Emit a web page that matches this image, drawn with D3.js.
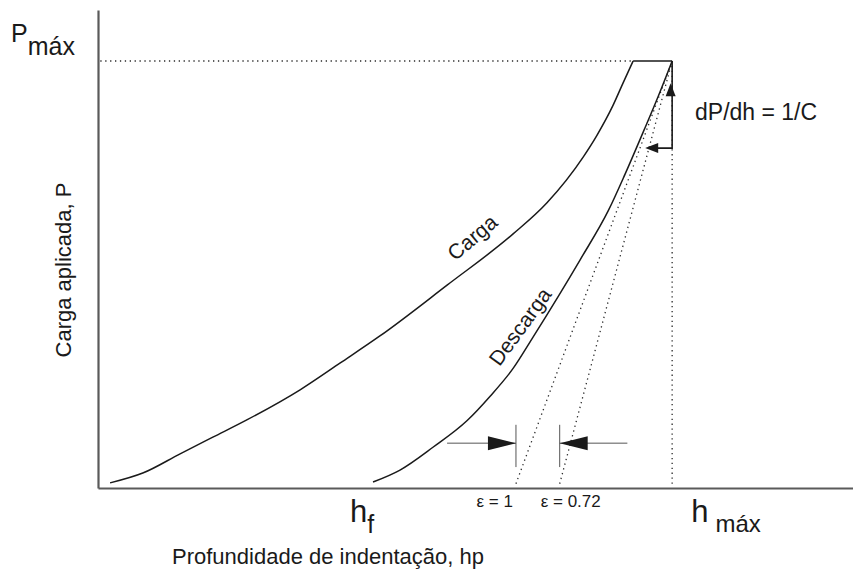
<!DOCTYPE html>
<html>
<head>
<meta charset="utf-8">
<script src="https://cdn.jsdelivr.net/npm/d3@7"></script>
<style>
  html, body { margin: 0; padding: 0; background: #fff; }
  svg { display: block; }
  text { font-family: "Liberation Sans", Arial, Helvetica, sans-serif; fill: #1a1a1a; }
</style>
</head>
<body>
<svg id="chart" width="853" height="571"></svg>
<script>
// Indentation depth h and load P (P max = 100, h max = 100)
const loadH = [2.1, 7.8, 14.3, 20.0, 26.0, 35.2, 42.2, 49.1, 60.8, 72.3, 78.2, 84.5, 86.9, 89.7, 91.5, 93.2];
const loadP = [1.2, 3.5, 8.0, 11.9, 16.0, 23.0, 29.3, 35.6, 47.5, 59.5, 66.8, 77.5, 82.6, 89.6, 95.0, 100];

const unloadH = [47.9, 52.6, 58.4, 64.3, 68.3, 72.3, 75.8, 84.0, 88.9, 91.8, 95.1, 97.6, 100];
const unloadP = [1.4, 4.2, 9.6, 15.8, 21.5, 28.0, 35.4, 53.5, 65.0, 73.5, 83.8, 91.8, 100];

const hMax = 100;
const pMax = 100;
const hF = unloadH[0];
const stiffness = 3.676;          // dP/dh at the top of the unloading curve
const epsilons = [1, 0.72];
const epsLabels = ["ε = 1", "ε = 0.72"];
const triangleDP = 20.4;          // size of the slope triangle
const triangleDH = 4.7;

const svg = d3.select("#chart");
const x = d3.scaleLinear().domain([0, 131.5]).range([98, 853]);
const y = d3.scaleLinear().domain([0, 111.94]).range([488, 10]);

const ink = "#1a1a1a";
const dotted = { stroke: "#2a2a2a", width: 1.3, dash: "1.3,3.6" };

// axes (no ticks)
svg.append("g").attr("transform", `translate(0,${y(0)})`)
  .call(d3.axisBottom(x).tickValues([]).tickSizeOuter(0))
  .select(".domain").attr("stroke", "#5a5a5a").attr("stroke-width", 2.2);
svg.append("g").attr("transform", `translate(${x(0)},0)`)
  .call(d3.axisLeft(y).tickValues([]).tickSizeOuter(0))
  .select(".domain").attr("stroke", "#5a5a5a").attr("stroke-width", 2.2);

const line = d3.line().x(d => x(d[0])).y(d => y(d[1])).curve(d3.curveMonotoneX);
const straight = d3.line().x(d => x(d[0])).y(d => y(d[1]));

function dot(points) {
  svg.append("path").attr("d", straight(points))
    .attr("fill", "none").attr("stroke", dotted.stroke)
    .attr("stroke-width", dotted.width).attr("stroke-dasharray", dotted.dash);
}

// reference dotted lines
dot([[0.4, pMax], [loadH[loadH.length - 1], pMax]]);
dot([[hMax, pMax], [hMax, 0.6]]);
const intercepts = epsilons.map(e => hMax - e * pMax / stiffness);
intercepts.forEach(h0 => dot([[h0, 1.0], [hMax, pMax]]));

// loading and unloading curves
svg.append("path").attr("d", line(loadH.map((h, i) => [h, loadP[i]])))
  .attr("fill", "none").attr("stroke", ink).attr("stroke-width", 1.5);
svg.append("path").attr("d", line(unloadH.map((h, i) => [h, unloadP[i]])))
  .attr("fill", "none").attr("stroke", ink).attr("stroke-width", 1.5);

// hold segment at P max
svg.append("path").attr("d", straight([[loadH[loadH.length - 1], pMax], [hMax, pMax]]))
  .attr("fill", "none").attr("stroke", ink).attr("stroke-width", 1.6);

// slope triangle dP/dh
const triBottom = pMax - triangleDP;
svg.append("path").attr("d", straight([[hMax, pMax], [hMax, triBottom], [hMax - triangleDH + 2.0, triBottom]]))
  .attr("fill", "none").attr("stroke", ink).attr("stroke-width", 1.6);

function head(tipX, tipY, dirX, dirY, len, half) {
  const bx = tipX - dirX * len, by = tipY - dirY * len;
  const px = -dirY, py = dirX;
  svg.append("path")
    .attr("d", `M${tipX},${tipY}L${bx + px * half},${by + py * half}L${bx - px * half},${by - py * half}Z`)
    .attr("fill", ink);
}
head(x(hMax) - 1.5, y(pMax - 5.2), 0, -1, 13, 5);
head(x(hMax - triangleDH), y(triBottom), -1, 0, 13, 5);

// bracket arrows marking the two intercepts
const arrowP = 10.5;
const tickTop = 14.8, tickBottom = 4.9;
intercepts.forEach(h0 => {
  svg.append("path").attr("d", straight([[h0, tickTop], [h0, tickBottom]]))
    .attr("fill", "none").attr("stroke", "#555").attr("stroke-width", 1);
});
svg.append("path").attr("d", straight([[60.8, arrowP], [intercepts[0], arrowP]]))
  .attr("fill", "none").attr("stroke", "#555").attr("stroke-width", 1);
head(x(intercepts[0]), y(arrowP), 1, 0, 28, 7);
svg.append("path").attr("d", straight([[92.2, arrowP], [intercepts[1], arrowP]]))
  .attr("fill", "none").attr("stroke", "#555").attr("stroke-width", 1);
head(x(intercepts[1]), y(arrowP), -1, 0, 28, 7);

// epsilon labels
svg.append("text").attr("x", x(intercepts[0]) - 3).attr("y", 507)
  .attr("text-anchor", "end").attr("font-size", 17).text(epsLabels[0]);
svg.append("text").attr("x", x(intercepts[1]) - 19).attr("y", 507)
  .attr("text-anchor", "start").attr("font-size", 17).text(epsLabels[1]);

// curve labels
svg.append("text").attr("transform", "translate(477,243) rotate(-40)")
  .attr("text-anchor", "middle").attr("font-size", 21).text("Carga");
svg.append("text").attr("transform", "translate(526,331) rotate(-54)")
  .attr("text-anchor", "middle").attr("font-size", 21).text("Descarga");

// slope annotation
svg.append("text").attr("x", 695).attr("y", 120).attr("font-size", 23).text("dP/dh = 1/C");

// P max label
const pm = svg.append("text").attr("x", 11).attr("y", 42);
pm.append("tspan").attr("font-size", 25).text("P");
pm.append("tspan").attr("font-size", 25).attr("dy", 13).text("máx");

// depth labels
const hf = svg.append("text").attr("x", x(hF) - 23).attr("y", 522);
hf.append("tspan").attr("font-size", 31).text("h");
hf.append("tspan").attr("font-size", 25).attr("dy", 11).text("f");
const hm = svg.append("text").attr("x", x(hMax) + 19).attr("y", 522);
hm.append("tspan").attr("font-size", 31).text("h");
hm.append("tspan").attr("font-size", 24).attr("dx", 7).attr("dy", 10).text("máx");

// axis titles
svg.append("text").attr("x", 172).attr("y", 564).attr("font-size", 22)
  .text("Profundidade de indentação, hp");
svg.append("text").attr("transform", "translate(71,270) rotate(-90)")
  .attr("text-anchor", "middle").attr("font-size", 22).text("Carga aplicada, P");
</script>
</body>
</html>
